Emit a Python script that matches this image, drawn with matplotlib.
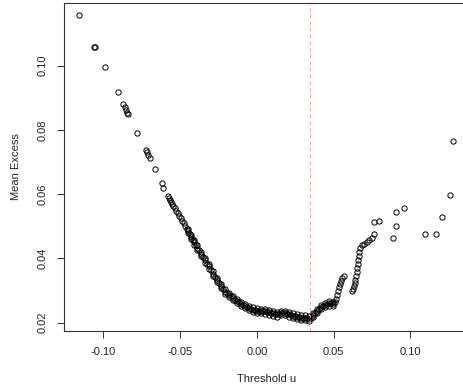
import numpy as np
import matplotlib
matplotlib.use('Agg')
import matplotlib.pyplot as plt

# thresholds (x) and mean excess (y)
threshold = [
    -0.1158, -0.1061, -0.1054, -0.0991, -0.0906, -0.0872, -0.0863, -0.0854, -0.0846, -0.0839,
    -0.0780, -0.0726, -0.0718, -0.0709, -0.0699, -0.0665, -0.0617, -0.0609,
    -0.0580, -0.0572, -0.0565, -0.0559, -0.0552, -0.0546, -0.0536, -0.0526, -0.0516, -0.0507,
    -0.0497, -0.0487, -0.0477, -0.0467, -0.0458, -0.0448, -0.0438, -0.0428, -0.0419, -0.0409,
    -0.0399, -0.0389, -0.0376, -0.0363, -0.0350, -0.0337, -0.0324, -0.0311, -0.0298, -0.0285,
    -0.0272, -0.0259, -0.0246, -0.0233, -0.0220, -0.0207, -0.0194, -0.0181, -0.0168, -0.0155,
    -0.0141, -0.0128, -0.0115, -0.0102, -0.0089, -0.0076, -0.0063, -0.0050, -0.0037, -0.0024,
    -0.0011, 0.0002, 0.0015, 0.0028, 0.0041, 0.0054, 0.0067, 0.0080, 0.0093, 0.0106,
    0.0119, 0.0132, 0.0145, 0.0158, 0.0171, 0.0184, 0.0198, 0.0211, 0.0224, 0.0237,
    0.0250, 0.0263, 0.0276, 0.0289, 0.0302, 0.0315, 0.0328, 0.0341, 0.0354, 0.0367,
    0.0380, 0.0393, 0.0406, 0.0419, 0.0432, 0.0445, 0.0458, 0.0471, 0.0484, 0.0497,
    0.0507, 0.0517, 0.0523, 0.0530, 0.0537, 0.0543, 0.0550, 0.0556, 0.0566,
    0.0619, 0.0625, 0.0631, 0.0638, 0.0641, 0.0647, 0.0651, 0.0654, 0.0657, 0.0660,
    0.0664, 0.0667, 0.0673, 0.0683, 0.0699, 0.0716, 0.0732, 0.0748, 0.0761, 0.0763,
    0.0799, 0.0890, 0.0904, 0.0908, 0.0960, 0.1099, 0.1169, 0.1206, 0.1256, 0.1278,
]
mean_excess = [
    0.1158, 0.1058, 0.1057, 0.0996, 0.0919, 0.0881, 0.0871, 0.0862, 0.0854, 0.0850,
    0.0790, 0.0737, 0.0730, 0.0722, 0.0711, 0.0679, 0.0634, 0.0620,
    0.0594, 0.0588, 0.0582, 0.0576, 0.0569, 0.0563, 0.0557, 0.0548, 0.0541, 0.0532,
    0.0526, 0.0516, 0.0509, 0.0501, 0.0493, 0.0485, 0.0476, 0.0467, 0.0457, 0.0450,
    0.0442, 0.0434, 0.0425, 0.0414, 0.0404, 0.0394, 0.0384, 0.0375, 0.0364, 0.0353,
    0.0342, 0.0333, 0.0324, 0.0314, 0.0305, 0.0297, 0.0291, 0.0286, 0.0282, 0.0277,
    0.0272, 0.0268, 0.0263, 0.0258, 0.0255, 0.0252, 0.0249, 0.0246, 0.0243, 0.0241,
    0.0240, 0.0238, 0.0238, 0.0236, 0.0236, 0.0235, 0.0233, 0.0232, 0.0230, 0.0229,
    0.0227, 0.0226, 0.0227, 0.0230, 0.0232, 0.0230, 0.0227, 0.0226, 0.0224, 0.0222,
    0.0221, 0.0219, 0.0218, 0.0216, 0.0215, 0.0216, 0.0215, 0.0213, 0.0216, 0.0224,
    0.0230, 0.0236, 0.0243, 0.0249, 0.0252, 0.0255, 0.0258, 0.0260, 0.0261, 0.0258,
    0.0264, 0.0274, 0.0286, 0.0299, 0.0310, 0.0320, 0.0330, 0.0339, 0.0345,
    0.0299, 0.0306, 0.0314, 0.0324, 0.0333, 0.0345, 0.0358, 0.0370, 0.0383, 0.0395,
    0.0408, 0.0420, 0.0432, 0.0442, 0.0446, 0.0451, 0.0457, 0.0464, 0.0476, 0.0512,
    0.0516, 0.0465, 0.0501, 0.0545, 0.0558, 0.0477, 0.0477, 0.0529, 0.0596, 0.0765,
]

# the dense part of the curve is a thick band: points along its upper and lower edge
band_u = [
    -0.0448, -0.0428, -0.0409, -0.0389, -0.0363, -0.0337, -0.0311, -0.0285, -0.0259, -0.0233,
    -0.0207, -0.0181, -0.0155, -0.0128, -0.0102, -0.0076, -0.0050, -0.0024, 0.0002, 0.0028,
    0.0054, 0.0080, 0.0106, 0.0132, 0.0158, 0.0184, 0.0211, 0.0237, 0.0263, 0.0289,
    0.0315, 0.0341, 0.0367, 0.0393, 0.0419, 0.0445, 0.0471, 0.0497,
]
band_upper = [
    0.0492, 0.0474, 0.0457, 0.0441, 0.0421, 0.0401, 0.0382, 0.0360, 0.0340, 0.0321,
    0.0304, 0.0293, 0.0284, 0.0275, 0.0265, 0.0259, 0.0253, 0.0248, 0.0245, 0.0243,
    0.0242, 0.0239, 0.0236, 0.0233, 0.0237, 0.0237, 0.0233, 0.0229, 0.0226, 0.0223,
    0.0223, 0.0220, 0.0231, 0.0243, 0.0256, 0.0262, 0.0267, 0.0265,
]
band_lower = [
    0.0478, 0.0460, 0.0443, 0.0427, 0.0407, 0.0387, 0.0368, 0.0346, 0.0326, 0.0307,
    0.0290, 0.0279, 0.0270, 0.0261, 0.0251, 0.0245, 0.0239, 0.0234, 0.0231, 0.0229,
    0.0228, 0.0225, 0.0222, 0.0219, 0.0223, 0.0223, 0.0219, 0.0215, 0.0212, 0.0209,
    0.0209, 0.0206, 0.0217, 0.0229, 0.0242, 0.0248, 0.0253, 0.0251,
]
chosen_u = 0.0347
x_ticks = [-0.10, -0.05, 0.00, 0.05, 0.10]
y_ticks = [0.02, 0.04, 0.06, 0.08, 0.10]

plt.rcParams['font.family'] = ['Liberation Sans', 'DejaVu Sans']
plt.rcParams['font.size'] = 8

fig = plt.figure(figsize=(4.63, 3.92), dpi=100)
ax = fig.add_axes([0.1389, 0.1564, 0.8717, 0.8368])

style = dict(ls='none', marker='o', mfc='none', mec='black', ms=3.8, mew=0.7)
ax.plot(threshold, mean_excess, **style)
ax.plot(band_u, band_upper, **style)
ax.plot(band_u, band_lower, **style)
ax.axvline(chosen_u, color='#f08a8a', lw=0.6, dashes=(4, 4))

# R style 4% padding
x = np.array(threshold)
y = np.array(mean_excess)
dx = (x.max() - x.min()) * 0.04
dy = (y.max() - y.min()) * 0.04
ax.set_xlim(x.min() - dx, x.max() + dx)
ax.set_ylim(y.min() - dy, y.max() + dy)

ax.set_xticks(x_ticks)
ax.set_xticklabels(['%.2f' % t for t in x_ticks])
ax.set_yticks(y_ticks)
ax.set_yticklabels(['%.2f' % t for t in y_ticks], rotation=90, va='center')
ax.tick_params(length=5, width=0.7, pad=7, color='#333333', labelcolor='#222222')

for s in ax.spines.values():
    s.set_color('#333333')
    s.set_linewidth(0.8)

ax.set_xlabel('Threshold u', labelpad=12, color='#222222')
ax.set_ylabel('Mean Excess', labelpad=12, color='#222222')

fig.savefig('out.png', dpi=100)
